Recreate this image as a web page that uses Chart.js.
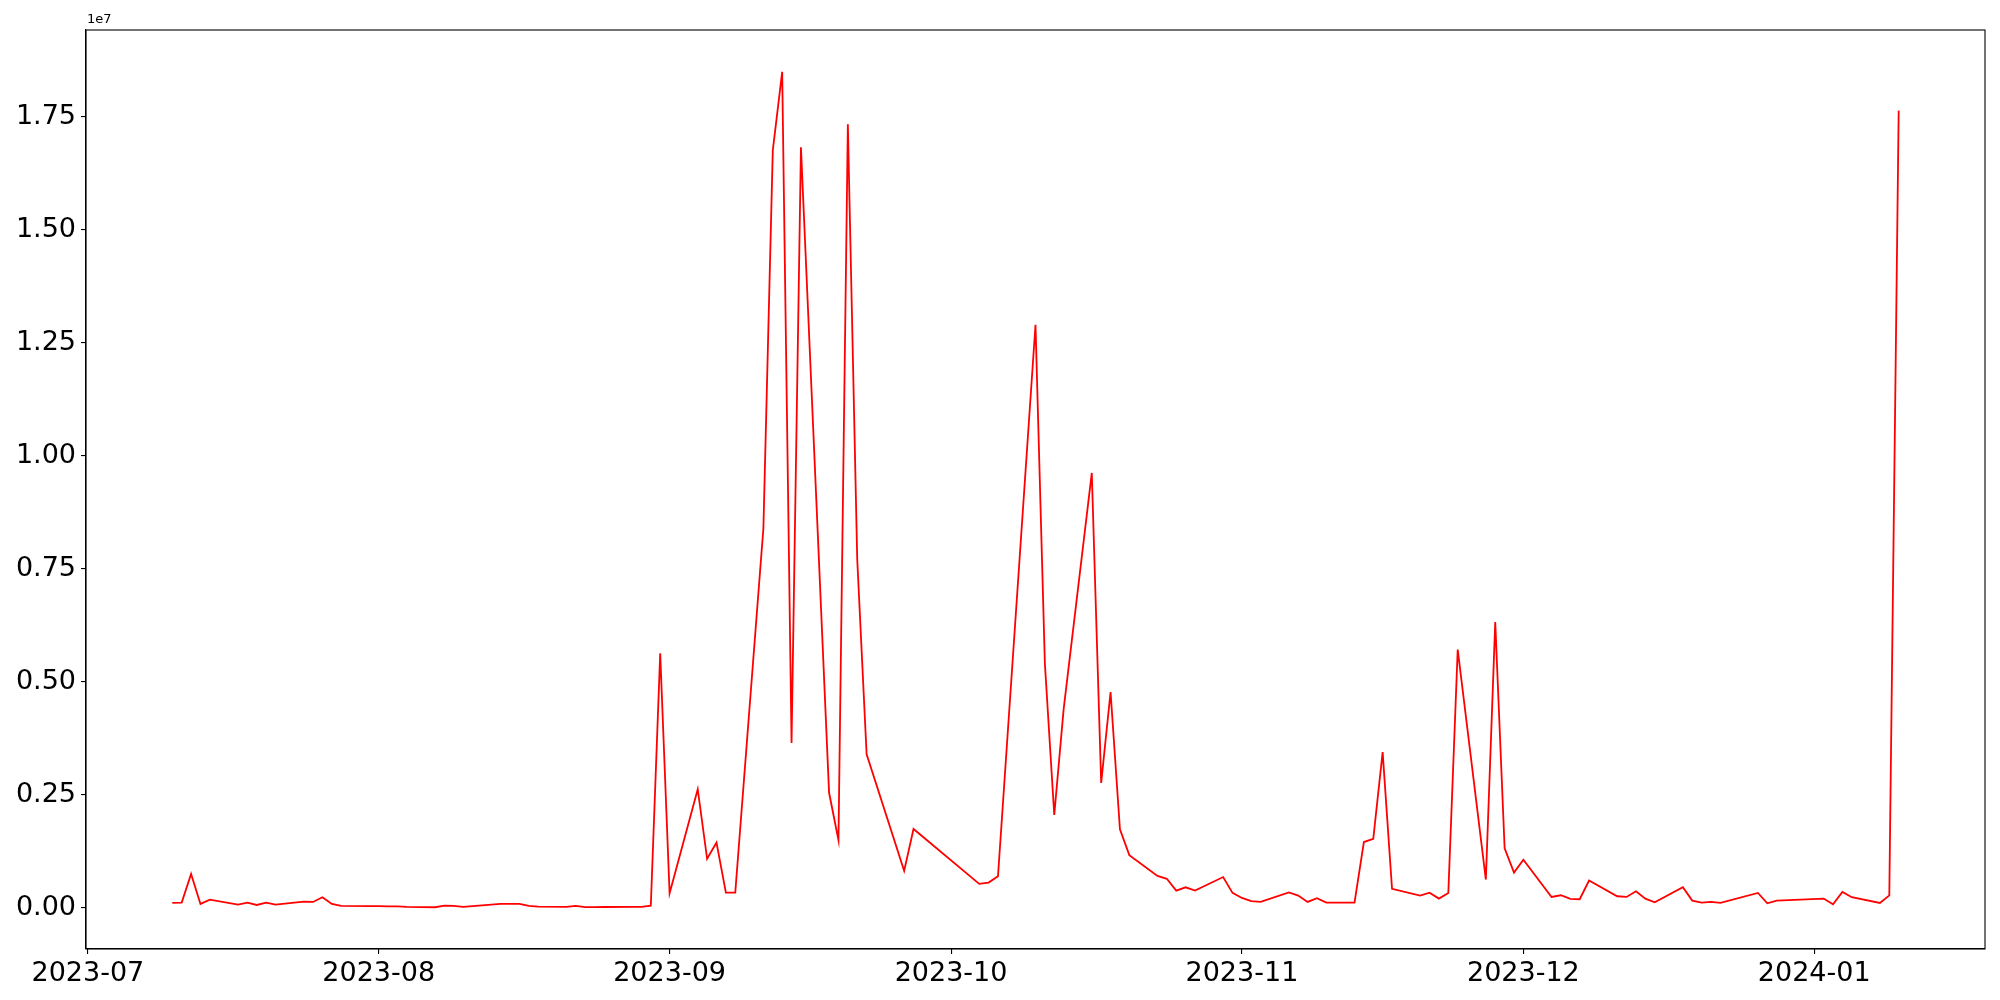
<!DOCTYPE html>
<html>
<head>
<meta charset="utf-8">
<script src="https://cdn.jsdelivr.net/npm/chart.js@4/dist/chart.umd.min.js"></script>
<style>
  html, body { margin: 0; padding: 0; background: #fff; }
  #wrap { width: 2000px; height: 1000px; }
</style>
</head>
<body>
<div id="wrap"><canvas id="chart" width="2000" height="1000"></canvas></div>
<script>
const DATES = [
  '2023-07-10', '2023-07-11', '2023-07-12', '2023-07-13', '2023-07-14',
  '2023-07-17', '2023-07-18', '2023-07-19', '2023-07-20', '2023-07-21',
  '2023-07-24', '2023-07-25', '2023-07-26', '2023-07-27', '2023-07-28',
  '2023-07-31', '2023-08-01', '2023-08-02', '2023-08-03', '2023-08-04',
  '2023-08-07', '2023-08-08', '2023-08-09', '2023-08-10', '2023-08-11',
  '2023-08-14', '2023-08-15', '2023-08-16', '2023-08-17', '2023-08-18',
  '2023-08-21', '2023-08-22', '2023-08-23', '2023-08-24', '2023-08-25',
  '2023-08-28', '2023-08-29', '2023-08-30', '2023-08-31', '2023-09-01',
  '2023-09-04', '2023-09-05', '2023-09-06', '2023-09-07', '2023-09-08',
  '2023-09-11', '2023-09-12', '2023-09-13', '2023-09-14', '2023-09-15',
  '2023-09-18', '2023-09-19', '2023-09-20', '2023-09-21', '2023-09-22',
  '2023-09-26', '2023-09-27',
  '2023-10-04', '2023-10-05', '2023-10-06',
  '2023-10-10', '2023-10-11', '2023-10-12', '2023-10-13',
  '2023-10-16', '2023-10-17', '2023-10-18', '2023-10-19', '2023-10-20',
  '2023-10-23', '2023-10-24', '2023-10-25', '2023-10-26', '2023-10-27',
  '2023-10-30', '2023-10-31', '2023-11-01', '2023-11-02', '2023-11-03',
  '2023-11-06', '2023-11-07', '2023-11-08', '2023-11-09', '2023-11-10',
  '2023-11-13', '2023-11-14', '2023-11-15', '2023-11-16', '2023-11-17',
  '2023-11-20', '2023-11-21', '2023-11-22', '2023-11-23', '2023-11-24',
  '2023-11-27', '2023-11-28', '2023-11-29', '2023-11-30', '2023-12-01',
  '2023-12-04', '2023-12-05', '2023-12-06', '2023-12-07', '2023-12-08',
  '2023-12-11', '2023-12-12', '2023-12-13', '2023-12-14', '2023-12-15',
  '2023-12-18', '2023-12-19', '2023-12-20', '2023-12-21', '2023-12-22',
  '2023-12-26', '2023-12-27', '2023-12-28',
  '2024-01-02', '2024-01-03', '2024-01-04', '2024-01-05',
  '2024-01-08', '2024-01-09', '2024-01-10',
];

const VALUES = [
  102000, 109000, 745000, 80000, 176000,
  65000, 110000, 57000, 110000, 65000,
  130000, 124000, 228000, 80000, 35000,
  30000, 30000, 28000, 28000, 15000,
  7000, 43000, 36000, 13000, 30000,
  80000, 82000, 80000, 36000, 20000,
  13000, 36000, 8000, 10000, 12000,
  13000, 15000, 43000, 5630000, 315000,
  2620000, 1080000, 1440000, 330000, 330000,
  8400000, 16760000, 18500000, 3640000, 16830000,
  2540000, 1490000, 17340000, 7710000, 3390000,
  812000, 1740000,
  524000, 553000, 694000,
  12900000, 5400000, 2050000, 4390000,
  9620000, 2760000, 4770000, 1730000, 1160000,
  700000, 636000, 375000, 448000, 375000,
  675000, 324000, 213000, 141000, 124000,
  335000, 266000, 125000, 205000, 108000,
  108000, 1450000, 1520000, 3440000, 415000,
  264000, 330000, 198000, 324000, 5710000,
  619000, 6320000, 1310000, 775000, 1060000,
  235000, 272000, 190000, 184000, 597000,
  250000, 235000, 360000, 198000, 117000,
  452000, 154000, 109000, 124000, 102000,
  324000, 95000, 153000,
  198000, 73000, 346000, 228000,
  102000, 270000, 17640000,
];

const X_TICK_DATES = [
  '2023-07-01', '2023-08-01', '2023-09-01', '2023-10-01',
  '2023-11-01', '2023-12-01', '2024-01-01',
];
const Y_TICKS = [0, 2500000, 5000000, 7500000, 10000000, 12500000, 15000000, 17500000];
const Y_OFFSET_LABEL = '1e7';

const FONT_FAMILY = '"DejaVu Sans", sans-serif';
const LINE_COLOR = 'rgb(255, 0, 0)';

const points = DATES.map((d, i) => ({ x: Date.parse(d), y: VALUES[i] }));

// matplotlib style 5% margins
const xFirst = points[0].x;
const xLast = points[points.length - 1].x;
const xPad = (xLast - xFirst) * 0.05;
const yMin = Math.min(...VALUES);
const yMax = Math.max(...VALUES);
const yPad = (yMax - yMin) * 0.05;

const pad2 = n => (n < 10 ? '0' + n : '' + n);

const framePlugin = {
  id: 'frame',
  beforeDraw: chart => {
    const ctx = chart.ctx;
    ctx.save();
    ctx.fillStyle = 'white';
    ctx.fillRect(0, 0, chart.width, chart.height);
    ctx.restore();
  },
  afterDraw: chart => {
    const { ctx, chartArea: a } = chart;
    ctx.save();
    ctx.strokeStyle = '#000';
    ctx.lineWidth = 1.1;
    ctx.strokeRect(a.left, a.top, a.right - a.left, a.bottom - a.top);
    // offset text above the y axis
    ctx.fillStyle = '#000';
    ctx.font = `13px ${FONT_FAMILY}`;
    ctx.textBaseline = 'bottom';
    ctx.textAlign = 'left';
    ctx.fillText(Y_OFFSET_LABEL, a.left + 1, a.top - 4);
    ctx.restore();
  },
};

new Chart(document.getElementById('chart'), {
  type: 'line',
  data: {
    datasets: [{
      data: points,
      borderColor: LINE_COLOR,
      borderWidth: 1.8,
      pointRadius: 0,
      tension: 0,
      fill: false,
    }],
  },
  plugins: [framePlugin],
  options: {
    responsive: false,
    animation: false,
    layout: {
      padding: { left: 0, top: 30, right: 15, bottom: 0 },
    },
    plugins: {
      legend: { display: false },
      tooltip: { enabled: false },
    },
    scales: {
      x: {
        type: 'linear',
        min: xFirst - xPad,
        max: xLast + xPad,
        afterBuildTicks: scale => {
          scale.ticks = X_TICK_DATES.map(d => ({ value: Date.parse(d) }));
        },
        afterFit: scale => {
          scale.height = 51;
        },
        grid: {
          drawOnChartArea: false,
          drawTicks: true,
          tickLength: 5,
          color: '#000',
          lineWidth: 1.1,
        },
        border: { display: true, color: '#000', width: 1.1 },
        ticks: {
          autoSkip: false,
          maxRotation: 0,
          padding: 4,
          color: '#000',
          font: { size: 27, family: FONT_FAMILY },
          callback: value => {
            const dt = new Date(value);
            return dt.getUTCFullYear() + '-' + pad2(dt.getUTCMonth() + 1);
          },
        },
      },
      y: {
        type: 'linear',
        min: yMin - yPad,
        max: yMax + yPad,
        afterBuildTicks: scale => {
          scale.ticks = Y_TICKS.map(v => ({ value: v }));
        },
        afterFit: scale => {
          scale.width = 86;
        },
        grid: {
          drawOnChartArea: false,
          drawTicks: true,
          tickLength: 5,
          color: '#000',
          lineWidth: 1.1,
        },
        border: { display: true, color: '#000', width: 1.1 },
        ticks: {
          padding: 5,
          color: '#000',
          font: { size: 27, family: FONT_FAMILY },
          callback: value => (value / 1e7).toFixed(2),
        },
      },
    },
  },
});
</script>
</body>
</html>
